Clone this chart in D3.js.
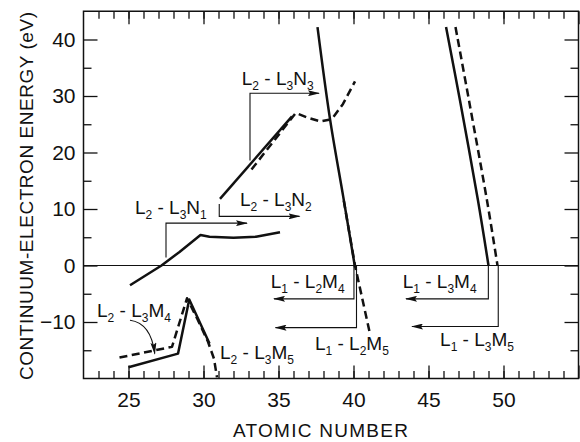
<!DOCTYPE html>
<html>
<head>
<meta charset="utf-8">
<script src="https://cdn.jsdelivr.net/npm/d3@7"></script>
<style>
body{margin:0;background:#fff;}
text{font-family:"Liberation Sans",Arial,Helvetica,sans-serif;fill:#111;}
</style>
</head>
<body>
<svg id="chart"></svg>
<script>
// axis ticks
var xMajor = [25,30,35,40,45,50,55];
var xMinor = d3.range(23,55);
var yMajor = [-10,0,10,20,30,40];
var yMinor = [-15,-5,5,15,25,35];

// curves: [atomic number, energy eV]
var n1Solid  = [[25.1,-3.5],[27.2,0],[28.4,2.4],[29.8,5.4],[30.4,5.1],[32.0,4.9],[33.5,5.1],[35.1,5.9]];
var n2Solid  = [[31.1,11.8],[35.9,26.4]];
var n3Dash   = [[33.2,17.0],[36.15,27.0],[36.9,26.2],[37.8,25.5],[38.55,25.9],[39.3,28.6],[40.1,32.6]];
var l2mSolid = [[37.6,42.2],[38.43,26],[39.32,12.1],[40.1,-0.3]];
var l2mDash  = [[39.35,11.5],[40.1,0],[41.1,-12.1]];
var l3mSolid = [[46.17,42.2],[47.1,29.2],[48.3,11.5],[49.0,0]];
var l3mDash  = [[46.8,42.2],[47.7,29.2],[48.9,11.5],[49.6,0]];
var m45Solid = [[25,-18],[28.3,-15.6],[29.05,-6],[30.4,-13.8]];
var m45Dash  = [[24.4,-16.3],[27.9,-14.4],[28.9,-5.8],[29.6,-9.5],[30.3,-13.5],[30.7,-16.5],[30.9,-19.8]];

// arrows (corner lines) in data coords
var arrows = [
  [[27.5,1.4],[27.5,7.5],[32.9,7.5]],
  [[31.05,10.9],[31.05,8.7],[36.4,8.7]],
  [[33.1,18.6],[33.1,30.5],[37.7,30.5]],
  [[40.03,0],[40.03,-5.9],[34.7,-5.9]],
  [[40.2,0],[40.2,-11.0],[34.8,-11.0]],
  [[48.99,0],[48.99,-5.9],[43.5,-5.9]],
  [[49.65,0],[49.65,-10.8],[43.9,-10.8]]
];
var labelText = ["L2 - L3N1","L2 - L3N2","L2 - L3N3","L2 - L3M4","L2 - L3M5",
                 "L1 - L2M4","L1 - L2M5","L1 - L3M4","L1 - L3M5"];
var labelAt = [[25.43,9.2],[32.43,10.6],[32.55,31.9],[22.9,-9.1],[31.1,-16.5],
               [34.48,-3.9],[37.43,-15.0],[43.28,-3.9],[45.77,-14.3]];

var width = 580, height = 442;
var svg = d3.select("#chart").attr("width", width).attr("height", height);

var x = d3.scaleLinear().domain([22,55]).range([83.5,578.5]);
var y = d3.scaleLinear().domain([-20,45]).range([378.5,11.25]);

// arrow head
svg.append("defs").append("marker")
  .attr("id","head")
  .attr("markerUnits","userSpaceOnUse")
  .attr("viewBox","0 0 12 6")
  .attr("refX",11).attr("refY",3)
  .attr("markerWidth",12).attr("markerHeight",6)
  .attr("orient","auto")
  .append("path").attr("d","M0,0L12,3L0,6L2,3Z").attr("fill","#111");

// ticks
function tickAxis(axis, vals, size, tr, fmt, pad){
  var g = svg.append("g").attr("transform", tr)
    .call(axis.tickValues(vals).tickSize(size).tickPadding(pad||3).tickFormat(fmt));
  g.select(".domain").remove();
  g.selectAll("line").attr("stroke","#111").attr("stroke-width",1.3);
  g.selectAll("text").attr("font-size","21px").attr("fill","#111");
  return g;
}
var yb = y(-20), yt = y(45), xl = x(22), xr = x(55);
tickAxis(d3.axisBottom(x), xMinor, -7.5, "translate(0,"+yb+")", "");
tickAxis(d3.axisBottom(x), xMajor, -13, "translate(0,"+yb+")", function(d){ return d==55 ? "" : d; }, 14);
tickAxis(d3.axisTop(x), xMinor, -7.5, "translate(0,"+yt+")", "");
tickAxis(d3.axisTop(x), xMajor, -13, "translate(0,"+yt+")", "");
tickAxis(d3.axisLeft(y), yMinor, -8, "translate("+xl+",0)", "");
tickAxis(d3.axisLeft(y), yMajor, -14, "translate("+xl+",0)", d3.format("d"), 8);
tickAxis(d3.axisRight(y), yMinor, -8, "translate("+xr+",0)", "");
tickAxis(d3.axisRight(y), yMajor, -14, "translate("+xr+",0)", "");

svg.append("rect").attr("x",xl).attr("y",yt).attr("width",xr-xl).attr("height",yb-yt)
  .attr("fill","none").attr("stroke","#111").attr("stroke-width",1.5);

// zero line
svg.append("line").attr("x1",xl).attr("x2",xr).attr("y1",y(0)).attr("y2",y(0))
  .attr("stroke","#111").attr("stroke-width",1);

var line = d3.line().x(function(d){return x(d[0]);}).y(function(d){return y(d[1]);});
var smooth = d3.line().curve(d3.curveCatmullRom)
  .x(function(d){return x(d[0]);}).y(function(d){return y(d[1]);});

function curve(data, dashed, gen){
  svg.append("path").datum(data).attr("d", gen || line)
    .attr("fill","none").attr("stroke","#111").attr("stroke-width",2.5)
    .attr("stroke-linejoin","round")
    .attr("stroke-dasharray", dashed ? "8,4.5" : null);
}
curve(n1Solid,false);
curve(n2Solid,false);
curve(n3Dash,true);
curve(l2mSolid,false,smooth);
curve(l2mDash,true);
curve(l3mSolid,false,smooth);
curve(l3mDash,true,smooth);
curve(m45Solid,false);
curve(m45Dash,true);

// corner arrows
arrows.forEach(function(a){
  svg.append("path").datum(a).attr("d", line)
    .attr("fill","none").attr("stroke","#111").attr("stroke-width",1.1)
    .attr("marker-end","url(#head)");
});

// curved arrow for L2 - L3M4
svg.append("path")
  .attr("d","M"+x(25.1)+","+y(-9.7)+"Q"+x(26.5)+","+y(-10.2)+" "+x(26.75)+","+y(-15.6))
  .attr("fill","none").attr("stroke","#111").attr("stroke-width",1.1)
  .attr("marker-end","url(#head)");

// labels with subscripts
labelText.forEach(function(s,i){
  var t = svg.append("text").attr("x", x(labelAt[i][0])).attr("y", y(labelAt[i][1]))
    .attr("font-size","19px");
  var sub = false;
  s.split("").forEach(function(c){
    var isNum = /[0-9]/.test(c);
    if(isNum){
      t.append("tspan").attr("font-size","12px").attr("dy",5).text(c);
      sub = true;
    } else {
      t.append("tspan").attr("dy", sub ? -5 : 0).text(c);
      sub = false;
    }
  });
});

// axis titles
svg.append("text").attr("x",320.5).attr("y",437).attr("text-anchor","middle")
  .attr("font-size","19px").attr("textLength",175).attr("lengthAdjust","spacing")
  .text("ATOMIC NUMBER");
svg.append("text").attr("transform","translate(33,196) rotate(-90)")
  .attr("text-anchor","middle").attr("font-size","19px")
  .attr("textLength",368).attr("lengthAdjust","spacing")
  .text("CONTINUUM-ELECTRON ENERGY (eV)");
</script>
</body>
</html>
